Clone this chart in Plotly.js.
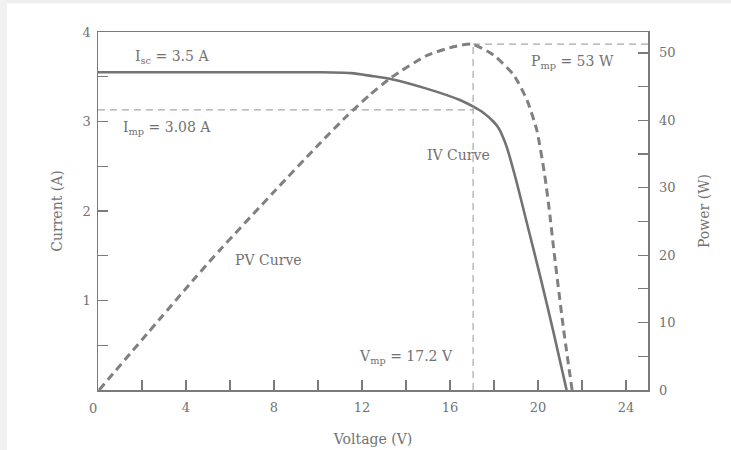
<!DOCTYPE html>
<html>
<head>
<meta charset="utf-8">
<script src="https://cdn.plot.ly/plotly-3.0.1.min.js"></script>
<style>
html,body{margin:0;padding:0;background:#fff;}
#chart{width:731px;height:450px;}
</style>
</head>
<body>
<div id="chart"></div>
<script>
// IV curve (current in A vs voltage in V)
var ivVoltage = [0, 2, 4, 6, 8, 10, 11.5, 12.4, 13.4, 14.9, 16.45, 17.06, 17.5, 17.97, 18.2, 18.4, 18.6, 18.8, 19.0, 19.5, 20.1, 20.7, 21.3];
var ivCurrent = [3.55, 3.55, 3.55, 3.55, 3.55, 3.55, 3.54, 3.51, 3.47, 3.37, 3.24, 3.165, 3.1, 3.0, 2.93, 2.83, 2.7, 2.53, 2.35, 1.86, 1.27, 0.65, 0];
// PV curve (power in W vs voltage in V)
var pvVoltage = [0.05, 4.3, 5.55, 8, 10, 11.3, 12.36, 13.35, 14.94, 16.15, 17.0, 17.97, 18.9, 19.5, 19.94, 20.3, 20.55, 20.7, 21.15, 21.55];
var pvPower = [0, 16.2, 20.8, 29.4, 36.3, 40.6, 43.8, 46.4, 49.6, 50.9, 51.3, 49.7, 46.7, 43.0, 38.6, 32.0, 25.7, 21.3, 9.3, 0];
// maximum power point guide lines
var vmpLine = 17.05;
var impLine = 3.13;
var pmpLine = 51.3;
// tick labels
var xTickVals = [0, 2, 4, 6, 8, 10, 12, 14, 16, 18, 20, 22, 24];
var xTickText = ['', '', '4', '', '8', '', '12', '', '16', '', '20', '', '24'];
var yTickVals = [0, 0.5, 1, 1.5, 2, 2.5, 3, 3.5, 4];
var yTickText = ['', '', '1', '', '2', '', '3', '', '4'];
var y2TickVals = [0, 5, 10, 15, 20, 25, 30, 35, 40, 45, 50];
var y2TickText = ['0', '', '10', '', '20', '', '30', '', '40', '', '50'];

var serif = 'DejaVu Serif, serif';
var txt = '#727272';
var axc = '#7a7a7a';

var traces = [
  {x: [0, vmpLine], y: [impLine, impLine], mode: 'lines', yaxis: 'y',
   line: {color: '#a8a8a8', width: 1.2, dash: '7px,5px'}, hoverinfo: 'skip'},
  {x: [vmpLine, vmpLine], y: [0, pmpLine], mode: 'lines', yaxis: 'y2',
   line: {color: '#a8a8a8', width: 1.2, dash: '7px,5px'}, hoverinfo: 'skip'},
  {x: [vmpLine, 25], y: [pmpLine, pmpLine], mode: 'lines', yaxis: 'y2',
   line: {color: '#a8a8a8', width: 1.2, dash: '7px,5px'}, hoverinfo: 'skip'},
  {x: ivVoltage, y: ivCurrent, mode: 'lines', yaxis: 'y', name: 'IV Curve',
   line: {color: '#737373', width: 2.6, shape: 'spline', smoothing: 0.8}},
  {x: pvVoltage, y: pvPower, mode: 'lines', yaxis: 'y2', name: 'PV Curve',
   line: {color: '#808080', width: 3, dash: '8px,5px', shape: 'spline', smoothing: 0.6}}
];

function ann(x, y, text) {
  return {x: x, y: y, xref: 'x', yref: 'y', text: text, showarrow: false,
          font: {family: serif, size: 14, color: txt}};
}

var layout = {
  width: 731, height: 450,
  margin: {l: 98, r: 83, t: 32, b: 60},
  paper_bgcolor: '#ffffff', plot_bgcolor: '#ffffff',
  showlegend: false,
  font: {family: serif, color: txt, size: 13},
  xaxis: {
    range: [0, 25], tickvals: xTickVals, ticktext: xTickText,
    ticks: 'inside', ticklen: 10, tickwidth: 1.2, tickcolor: axc,
    showline: true, linecolor: axc, linewidth: 1.5, mirror: true,
    showgrid: false, zeroline: false, ticklabelstandoff: 5,
    tickfont: {family: serif, size: 13, color: txt},
    title: {text: 'Voltage (V)', font: {family: serif, size: 14, color: txt}, standoff: 20}
  },
  yaxis: {
    range: [0, 4], tickvals: yTickVals, ticktext: yTickText,
    ticks: 'inside', ticklen: 10, tickwidth: 1.2, tickcolor: axc,
    showline: true, linecolor: axc, linewidth: 1.5,
    showgrid: false, zeroline: false, ticklabelstandoff: 3,
    tickfont: {family: serif, size: 13, color: txt},
    title: {text: 'Current (A)', font: {family: serif, size: 14, color: txt}, standoff: 16}
  },
  yaxis2: {
    range: [0, 53.1], overlaying: 'y', side: 'right',
    tickvals: y2TickVals, ticktext: y2TickText,
    ticks: 'inside', ticklen: 10, tickwidth: 1.2, tickcolor: axc,
    showline: true, linecolor: axc, linewidth: 1.5,
    showgrid: false, zeroline: false, ticklabelstandoff: 7,
    tickfont: {family: serif, size: 13, color: txt},
    title: {text: 'Power (W)', font: {family: serif, size: 14, color: txt}, standoff: 24}
  },
  shapes: [
    {type: 'rect', xref: 'paper', yref: 'paper', x0: -0.2, x1: 1.16, y0: 1.0805, y1: 1.1, fillcolor: '#eeeeee', line: {width: 0}, layer: 'below'},
    {type: 'rect', xref: 'paper', yref: 'paper', x0: -0.18, x1: -0.1655, y0: -0.2, y1: 1.1, fillcolor: '#f1f1f1', line: {width: 0}, layer: 'below'}
  ],
  annotations: [
    ann(3.36, 3.72, 'I<sub>sc</sub> = 3.5 A'),
    ann(3.14, 2.93, 'I<sub>mp</sub> = 3.08 A'),
    ann(21.55, 3.66, 'P<sub>mp</sub> = 53 W'),
    ann(16.4, 2.63, 'IV Curve'),
    ann(7.73, 1.45, 'PV Curve'),
    ann(14.0, 0.37, 'V<sub>mp</sub> = 17.2 V'),
    {x: -0.02, y: -0.078, xref: 'paper', yref: 'paper', text: '0', showarrow: false,
     font: {family: serif, size: 13, color: txt}}
  ]
};

Plotly.newPlot('chart', traces, layout, {displayModeBar: false, staticPlot: true});
</script>
</body>
</html>
